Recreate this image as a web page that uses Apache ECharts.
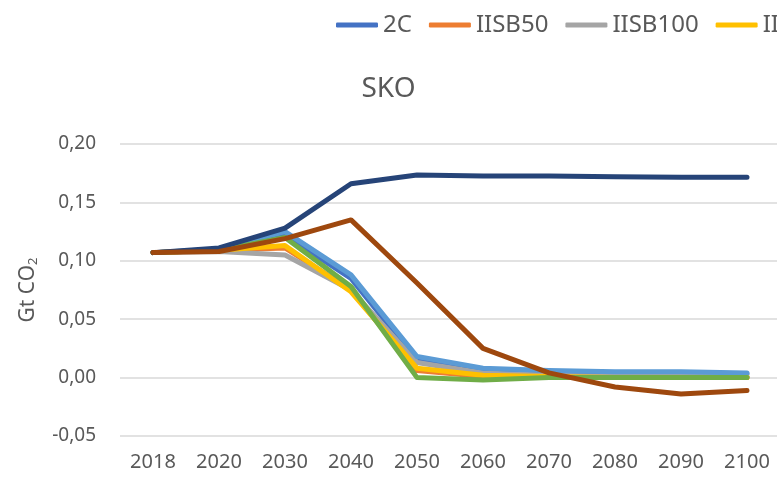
<!DOCTYPE html>
<html>
<head>
<meta charset="utf-8">
<script src="https://cdn.jsdelivr.net/npm/echarts@6/dist/echarts.min.js"></script>
<style>
  html, body { margin: 0; padding: 0; background: #fff; }
  #chart { width: 777px; height: 483px; }
</style>
</head>
<body>
<div id="chart"></div>
<script>
// categories and values
var years = ['2018', '2020', '2030', '2040', '2050', '2060', '2070', '2080', '2090', '2100'];
var s2C      = [0.107, 0.109, 0.122, 0.085, 0.015, 0.007, 0.005, 0.004, 0.004, 0.003];
var sIISB50  = [0.107, 0.109, 0.111, 0.075, 0.006, 0.001, 0.001, 0.000, 0.000, 0.000];
var sIISB100 = [0.107, 0.108, 0.105, 0.075, 0.013, 0.004, 0.002, 0.001, 0.001, 0.001];
var sIISB200 = [0.107, 0.109, 0.113, 0.0735, 0.008, 0.002, 0.001, 0.000, 0.000, 0.000];
var sIISB300 = [0.107, 0.110, 0.125, 0.088, 0.018, 0.008, 0.006, 0.005, 0.005, 0.004];
var sIISB500 = [0.107, 0.109, 0.120, 0.078, 0.000, -0.002, 0.000, 0.000, 0.000, 0.000];
var sBAU     = [0.107, 0.111, 0.128, 0.166, 0.1735, 0.1725, 0.1725, 0.172, 0.1715, 0.1715];
var sNDC     = [0.107, 0.108, 0.119, 0.135, 0.081, 0.025, 0.004, -0.008, -0.014, -0.011];

var seriesNames = ['2C', 'IISB50', 'IISB100', 'IISB200', 'IISB300', 'IISB500', 'BAU', 'NDC'];
var seriesData = [s2C, sIISB50, sIISB100, sIISB200, sIISB300, sIISB500, sBAU, sNDC];
var colors = ['#4472C4', '#ED7D31', '#A5A5A5', '#FFC000', '#5B9BD5', '#70AD47', '#264478', '#9E480E'];

var font = 'Noto Sans';
var chart = echarts.init(document.getElementById('chart'));

var series = seriesNames.map(function (name, i) {
    return {
        name: name,
        type: 'line',
        data: seriesData[i],
        symbol: 'none',
        smooth: false,
        lineStyle: { width: 5, color: colors[i], cap: 'round', join: 'round' },
        itemStyle: { color: colors[i] }
    };
});

chart.setOption({
    animation: false,
    color: colors,
    title: {
        text: 'SKO',
        left: 'center',
        top: 70,
        textStyle: { fontFamily: font, fontSize: 28, fontWeight: 'normal', color: '#595959' }
    },
    legend: {
        left: 331,
        top: 8,
        width: 3000,
        icon: 'roundRect',
        itemWidth: 42,
        itemHeight: 5,
        itemGap: 17,
        data: seriesNames,
        textStyle: { fontFamily: font, fontSize: 24, color: '#595959' }
    },
    grid: {
        left: 120,
        top: 144,
        width: 660,
        height: 292,
        outerBoundsMode: 'none'
    },
    xAxis: {
        type: 'category',
        data: years,
        boundaryGap: true,
        axisLine: { show: false },
        axisTick: { show: false },
        axisLabel: { fontFamily: font, fontSize: 20, color: '#595959', margin: 16 }
    },
    yAxis: {
        type: 'value',
        min: -0.05,
        max: 0.2,
        interval: 0.05,
        name: 'Gt CO{sub|2}',
        nameLocation: 'middle',
        nameGap: 80,
        nameTextStyle: {
            fontFamily: font, fontSize: 21, color: '#595959',
            rich: { sub: { fontFamily: font, fontSize: 13, color: '#595959', verticalAlign: 'bottom', padding: [10, 0, 0, 0] } }
        },
        axisLine: { show: false },
        axisTick: { show: false },
        splitLine: { lineStyle: { color: '#d9d9d9', width: 1.5 } },
        axisLabel: {
            fontFamily: font, fontSize: 19, color: '#595959', margin: 24,
            formatter: function (v) { return v.toFixed(2).replace('.', ','); }
        }
    },
    series: series
});
</script>
</body>
</html>
